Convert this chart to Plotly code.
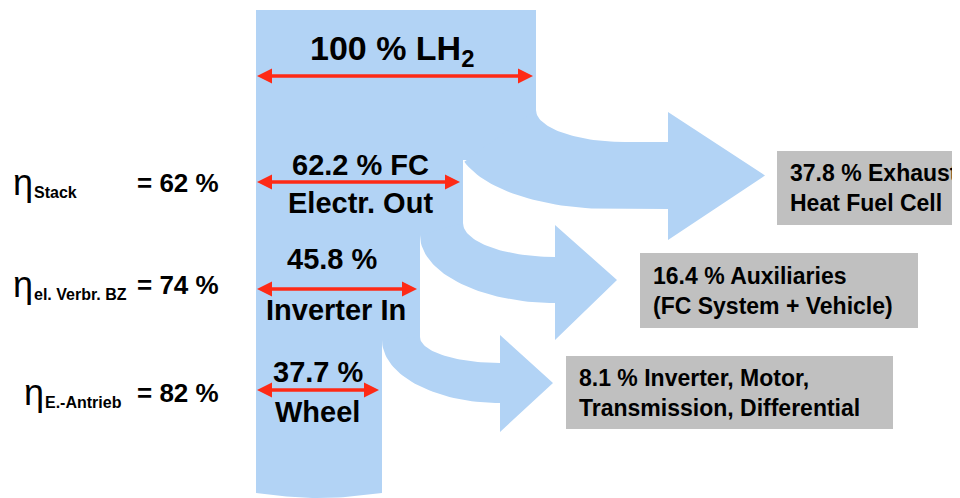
"""Energy flow chain of a fuel cell vehicle (LH2 -> wheel)."""
import numpy as np
import plotly.graph_objects as go

# energy share at each stage, % of LH2 input
stage_values = [100, 62.2, 45.8, 37.7]
stage_suffix = [" LH<sub>2</sub>", " FC", "", ""]
stage_names = ["", "Electr. Out", "Inverter In", "Wheel"]

# losses branching off between stages
loss_values = [37.8, 16.4, 8.1]
loss_names = ["Exhaust<br>Heat Fuel Cell",
              "Auxiliaries<br>(FC System + Vehicle)",
              "Inverter, Motor,<br>Transmission, Differential"]

# stage efficiencies
eff_names = ["Stack", "el. Verbr. BZ", "E.-Antrieb"]
eff_values = [62, 74, 82]

BLUE = "#b2d3f5"
RED = "#fe2a16"
GREY = "#c0c0c0"
FONT = "Liberation Sans"

# schematic layout (pixel space of the 960x498 canvas)
left = 256
top = 10
bottom = 493
trunk_right = [536, 463, 420, 382]      # right edge of trunk per stage
step_y = [160, 235, 340]                # where trunk narrows
outer = [(625, 110, 89, 32), (555, 223, 92, 34), (500, 337, 80, 26)]
inner = [(610, 140, 153.6, 69), (555, 235, 135, 68), (500, 340, 118, 63)]
heads = [(668, 112, 240, 765), (555, 225, 340, 617), (500, 335, 432, 553)]
top_lbl = [(392, 50), (360, 165), (332, 259), (318, 372)]
arrow_y = [76, 182, 289, 390]
bot_lbl = [None, (360, 203), (336, 310), (317, 412)]
eff_y = [183, 285, 393]
eta_x = [11, 11, 22]
boxes = [(777, 151, 968, 225), (640, 253, 918, 328), (566, 356, 893, 429)]
PAD = 8  # page body margin
HEAD_L, HEAD_H = 15, 7.5


def quarter(cx, cy, rx, ry, xmin=None, n=40):
    t = np.linspace(0, np.pi / 2, n)
    x = cx - rx * np.cos(t)
    y = cy + ry * np.sin(t)
    if xmin is not None:
        keep = x >= xmin
        x, y = x[keep], y[keep]
    return x, y


fig = go.Figure()


def blob(x, y, color=BLUE):
    fig.add_trace(go.Scatter(x=x, y=y, mode="lines", fill="toself",
                             fillcolor=color, line=dict(width=0, color=color),
                             hoverinfo="skip"))


# trunk
tx = [left, trunk_right[0], trunk_right[0]]
ty = [top, top, step_y[0]]
for i in range(3):
    tx += [trunk_right[i + 1], trunk_right[i + 1]]
    ty += [step_y[i], step_y[i + 1] if i < 2 else bottom]
arc = np.linspace(0, 1, 30)
tx += list(trunk_right[3] + (left - trunk_right[3]) * arc)
ty += list(bottom + 5 * np.sin(np.pi * arc))
blob(tx, ty)

# loss branches
for i in range(3):
    ox, oy = quarter(*outer[i])
    ix, iy = quarter(*inner[i], xmin=trunk_right[i + 1])
    bx, btop, bbot, tip = heads[i]
    mid = (oy[-1] + iy[-1]) / 2
    x = list(ox) + [bx, bx, tip, bx, bx] + list(ix[::-1])
    y = list(oy) + [oy[-1], btop, mid, bbot, iy[-1]] + list(iy[::-1])
    blob(x, y)

# loss boxes
for i, (x0, y0, x1, y1) in enumerate(boxes):
    fig.add_shape(type="rect", x0=x0, y0=y0, x1=x1, y1=y1,
                  fillcolor=GREY, line=dict(width=0), layer="above")
    fig.add_annotation(x=x0 + 11, y=(y0 + y1) / 2, xanchor="left",
                       yanchor="middle", align="left", showarrow=False,
                       text=f"{loss_values[i]} % {loss_names[i]}",
                       font=dict(family=FONT, size=23, color="black",
                                 weight="bold"))

# stage labels and red width arrows
for i, v in enumerate(stage_values):
    fig.add_annotation(x=top_lbl[i][0], y=top_lbl[i][1], showarrow=False,
                       text=f"{v:g} %{stage_suffix[i]}",
                       font=dict(family=FONT, size=34 if i == 0 else 29,
                                 color="black", weight="bold"))
    if bot_lbl[i]:
        fig.add_annotation(x=bot_lbl[i][0], y=bot_lbl[i][1], showarrow=False,
                           text=stage_names[i],
                           font=dict(family=FONT, size=29, color="black",
                                     weight="bold"))
    x0, x1, ya = left + 1, trunk_right[i] - 3, arrow_y[i]
    fig.add_trace(go.Scatter(x=[x0 + HEAD_L - 2, x1 - HEAD_L + 2], y=[ya, ya],
                             mode="lines", line=dict(color=RED, width=3.5),
                             hoverinfo="skip"))
    blob([x0, x0 + HEAD_L, x0 + HEAD_L], [ya, ya - HEAD_H, ya + HEAD_H], RED)
    blob([x1, x1 - HEAD_L, x1 - HEAD_L], [ya, ya - HEAD_H, ya + HEAD_H], RED)

# efficiencies
for i in range(3):
    fig.add_annotation(x=eta_x[i], y=eff_y[i] - 1, xanchor="left",
                       showarrow=False, text="\u03b7",
                       font=dict(family=FONT, size=36, color="black"))
    fig.add_annotation(x=eta_x[i] + 21, y=eff_y[i] + 9, xanchor="left",
                       showarrow=False, text=eff_names[i],
                       font=dict(family=FONT, size=16, color="black",
                                 weight="bold"))
    fig.add_annotation(x=135, y=eff_y[i], xanchor="left", showarrow=False,
                       text=f"= {eff_values[i]} %",
                       font=dict(family=FONT, size=26, color="black",
                                 weight="bold"))

fig.update_layout(width=960, height=498, margin=dict(l=0, r=0, t=0, b=0),
                  showlegend=False, plot_bgcolor="white", paper_bgcolor="white",
                  xaxis=dict(range=[PAD, 960 + PAD], visible=False, fixedrange=True),
                  yaxis=dict(range=[498 + PAD, PAD], visible=False, fixedrange=True))
fig.write_html("out.html")
